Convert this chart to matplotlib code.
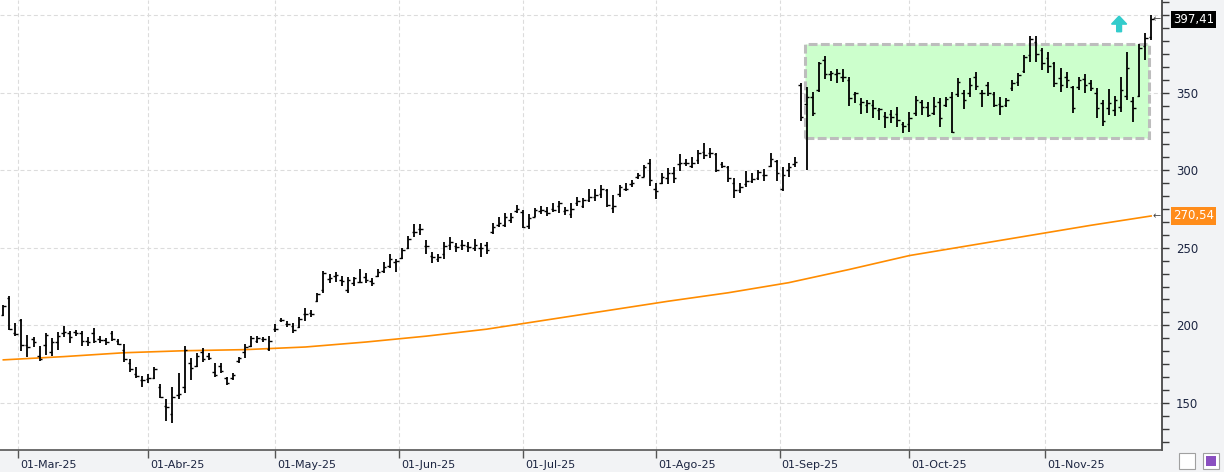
import numpy as np
import pandas as pd
import matplotlib
matplotlib.use("Agg")
import matplotlib.pyplot as plt
import matplotlib.transforms as mtransforms
from matplotlib.patches import Rectangle
from matplotlib.ticker import MultipleLocator

# daily bars, 26-Feb-25 .. 26-Nov-25
opens = [206.6, 217.4, 195.0, 203.5, 187.3, 191.4, 180.2, 187.0, 183.0, 189.4,
         195.2, 195.0, 196.0, 194.8, 190.0, 194.8, 191.0, 190.5, 194.8, 190.0,
         184.0, 176.0, 168.6, 165.0, 165.5, 166.0, 160.0, 148.0, 143.0, 155.0,
         160.4, 176.0, 173.7, 183.0, 180.0, 170.0, 174.0, 165.8, 166.0, 177.2,
         183.0, 186.6, 190.0, 191.0, 184.5, 197.5, 203.5, 201.0, 199.5, 199.0,
         207.0, 207.7, 216.0, 222.8, 230.0, 232.0, 229.0, 223.0, 227.0, 228.0,
         231.0, 228.8, 232.0, 235.0, 238.0, 241.0, 243.2, 249.6, 260.0, 262.0,
         251.0, 245.0, 243.0, 246.0, 252.0, 251.0, 252.0, 251.0, 250.0, 250.0,
         252.0, 260.0, 265.0, 265.0, 268.0, 274.0, 273.0, 264.0, 270.0, 274.0,
         274.0, 275.0, 277.0, 274.0, 272.0, 279.0, 277.0, 281.0, 283.0, 285.0,
         287.0, 276.0, 285.0, 288.0, 291.0, 296.0, 296.0, 305.0, 288.0, 292.0,
         295.0, 298.0, 304.0, 304.5, 303.0, 306.6, 312.0, 311.0, 310.5, 304.0,
         302.0, 292.0, 287.0, 291.0, 293.0, 295.0, 297.0, 302.8, 306.0, 288.0,
         300.0, 304.0, 355.0, 343.0, 347.0, 352.0, 371.0, 362.0, 362.0, 360.0,
         358.0, 349.0, 343.0, 342.0, 342.0, 339.0, 335.0, 336.0, 336.0, 330.0,
         330.0, 337.0, 344.0, 341.0, 337.0, 344.0, 342.0, 347.0, 349.0, 350.0,
         350.0, 360.0, 350.0, 355.0, 349.0, 343.0, 342.0, 352.9, 357.0, 364.0,
         374.4, 383.0, 377.6, 372.2, 369.0, 359.3, 360.4, 353.5, 354.0, 358.7,
         356.5, 350.0, 343.6, 340.0, 339.0, 340.6, 348.0, 345.0, 347.9, 380.0,
         386.0]
highs = [213.1, 218.9, 201.2, 203.8, 193.7, 192.6, 186.6, 195.2, 192.0, 195.4,
         199.5, 196.3, 197.0, 196.3, 192.2, 198.0, 193.0, 191.6, 196.5, 190.9,
         187.7, 178.0, 172.9, 167.3, 168.3, 172.9, 161.9, 152.2, 160.4, 169.4,
         186.6, 178.7, 181.9, 185.1, 181.9, 175.4, 175.9, 166.8, 169.4, 179.7,
         187.9, 193.1, 193.1, 192.6, 193.1, 200.8, 204.7, 202.8, 201.3, 205.6,
         211.0, 209.9, 220.6, 235.0, 233.1, 234.4, 232.0, 231.0, 231.4, 236.1,
         234.0, 230.3, 236.1, 241.1, 246.0, 242.6, 249.6, 257.6, 265.1, 265.3,
         255.0, 247.5, 246.0, 253.9, 257.1, 253.3, 255.0, 253.9, 255.4, 253.3,
         253.9, 266.2, 269.6, 272.2, 272.2, 277.6, 274.3, 271.5, 275.5, 277.0,
         276.5, 279.1, 280.4, 276.1, 278.7, 283.0, 281.9, 287.7, 287.7, 290.5,
         287.7, 284.0, 290.5, 291.6, 293.7, 298.0, 303.4, 307.0, 292.0, 298.0,
         301.3, 302.3, 310.5, 307.1, 308.4, 313.1, 317.4, 314.2, 311.0, 305.6,
         302.8, 294.8, 292.0, 299.8, 298.5, 300.2, 300.6, 311.0, 306.6, 301.9,
         305.0, 308.4, 356.1, 354.0, 350.8, 370.1, 373.8, 364.3, 365.2, 365.2,
         360.0, 350.8, 346.5, 345.4, 345.4, 340.0, 337.9, 339.0, 341.1, 331.4,
         337.9, 347.9, 345.4, 344.3, 347.5, 346.4, 347.5, 350.7, 359.3, 351.8,
         359.3, 363.6, 351.8, 357.2, 350.7, 347.5, 346.4, 358.3, 362.6, 374.4,
         386.6, 386.6, 378.7, 376.5, 370.1, 365.8, 363.6, 354.4, 360.4, 362.1,
         358.3, 352.9, 345.4, 352.2, 347.9, 360.0, 376.5, 347.5, 381.5, 388.4,
         400.2]
lows = [206.0, 196.9, 193.1, 183.6, 179.7, 186.2, 177.2, 180.8, 180.2, 184.0,
        192.6, 188.8, 193.1, 186.8, 186.6, 188.3, 188.3, 187.3, 190.1, 187.3,
        176.5, 170.0, 165.8, 160.0, 162.5, 165.1, 152.9, 138.5, 137.2, 152.2,
        156.5, 164.7, 173.3, 176.5, 177.6, 166.4, 169.4, 161.5, 164.7, 175.4,
        178.7, 186.2, 188.3, 189.4, 183.6, 195.5, 202.4, 199.1, 195.3, 198.1,
        203.0, 205.6, 215.3, 221.1, 227.5, 228.2, 225.4, 221.1, 225.4, 227.5,
        227.1, 225.4, 231.4, 233.5, 236.8, 234.6, 242.5, 249.0, 257.1, 258.2,
        246.0, 240.4, 241.0, 242.5, 248.5, 247.5, 248.5, 247.5, 248.1, 243.8,
        246.0, 258.9, 263.2, 263.6, 266.2, 272.6, 262.5, 262.2, 269.7, 271.8,
        270.5, 273.3, 272.2, 271.2, 269.0, 277.0, 275.5, 279.8, 280.4, 281.9,
        276.1, 272.7, 283.0, 286.9, 289.0, 294.2, 295.5, 289.9, 281.3, 291.2,
        291.2, 291.6, 299.8, 302.8, 301.3, 304.1, 307.1, 307.7, 299.1, 301.3,
        292.7, 281.9, 285.1, 289.0, 291.6, 293.7, 293.3, 302.3, 293.3, 286.9,
        296.0, 302.4, 332.0, 300.2, 335.1, 350.8, 358.7, 357.9, 356.6, 357.2,
        341.5, 343.7, 336.4, 337.2, 333.6, 332.5, 327.1, 330.3, 327.8, 324.3,
        325.0, 335.0, 335.7, 334.6, 335.7, 328.1, 340.6, 323.9, 347.5, 339.3,
        347.5, 351.8, 340.6, 347.9, 341.1, 335.7, 340.6, 351.4, 354.4, 362.6,
        370.1, 370.1, 364.7, 362.6, 354.0, 350.7, 352.9, 337.2, 351.8, 350.1,
        351.4, 333.5, 328.6, 335.7, 335.0, 337.8, 345.4, 331.4, 347.5, 371.2,
        384.1]
closes = [212.5, 197.4, 194.5, 187.3, 186.0, 189.0, 178.0, 194.0, 189.2, 193.0,
          196.0, 192.6, 195.0, 190.0, 189.4, 190.0, 190.5, 189.0, 191.0, 188.0,
          178.0, 171.6, 167.0, 164.7, 166.0, 171.6, 153.5, 147.0, 153.5, 155.5,
          184.0, 172.2, 180.0, 178.0, 179.1, 168.0, 170.7, 163.0, 168.0, 179.0,
          186.0, 192.0, 191.6, 191.0, 190.0, 197.4, 203.5, 201.0, 197.0, 204.0,
          207.5, 207.0, 220.0, 234.0, 230.3, 232.5, 228.8, 229.2, 230.3, 228.2,
          229.2, 227.0, 234.6, 237.4, 242.6, 241.7, 248.5, 256.0, 260.4, 261.9,
          251.1, 244.2, 244.2, 251.0, 253.9, 250.7, 251.8, 250.7, 251.8, 249.6,
          248.5, 263.6, 266.2, 269.6, 269.6, 274.8, 263.6, 269.0, 274.5, 274.4,
          272.2, 274.4, 278.7, 274.4, 274.8, 280.4, 280.8, 283.0, 284.0, 287.7,
          277.6, 277.0, 289.0, 287.7, 291.6, 297.0, 302.0, 293.7, 286.6, 296.0,
          298.0, 294.8, 304.5, 304.5, 304.5, 311.0, 309.9, 311.0, 300.0, 302.8,
          294.8, 287.3, 289.4, 293.3, 294.2, 299.1, 297.0, 307.0, 298.5, 297.0,
          302.0, 305.6, 334.6, 347.0, 337.2, 369.0, 362.0, 362.6, 362.6, 360.0,
          346.5, 349.7, 344.3, 343.2, 340.0, 339.4, 334.6, 334.6, 332.5, 328.6,
          333.6, 345.4, 341.1, 335.7, 341.5, 334.0, 345.8, 325.0, 357.2, 345.4,
          355.0, 354.4, 350.1, 350.0, 342.1, 341.5, 345.4, 356.0, 361.5, 373.3,
          385.0, 375.0, 369.0, 367.0, 356.0, 355.0, 358.0, 340.0, 358.3, 355.0,
          353.0, 340.0, 332.0, 343.2, 345.4, 352.0, 365.8, 340.0, 378.7, 385.1,
          397.41]

# 200-day moving average, sampled every 10 bars
ma_idx = list(range(0, 191, 10))
ma_vals = [177.7, 179.8, 182.3, 183.6, 184.3, 186.0, 189.2, 193.0, 197.5, 203.5,
           209.5, 215.5, 221.0, 227.5, 236.0, 245.0, 251.5, 258.0, 264.5, 270.54]

holidays = ["2025-04-18", "2025-05-26", "2025-06-19", "2025-07-04", "2025-09-01"]
month_starts = ["2025-03-01", "2025-04-01", "2025-05-01", "2025-06-01", "2025-07-01",
                "2025-08-01", "2025-09-01", "2025-10-01", "2025-11-01"]
month_labels = ["01-Mar-25", "01-Abr-25", "01-May-25", "01-Jun-25", "01-Jul-25",
                "01-Ago-25", "01-Sep-25", "01-Oct-25", "01-Nov-25"]
price_ticks = [150, 200, 250, 300, 350, 400]
price_labels = ["150", "200", "250", "300", "350", ""]  # 400 sits under the last-price tag

# lateral range (green box)
box_top = 381.3
box_bottom = 321.05

n = len(closes)
dates = pd.bdate_range("2025-02-26", periods=n, freq="C", holidays=holidays)
x = np.arange(n)

tick_pos = []
for m in pd.to_datetime(month_starts):
    i = int(np.searchsorted(dates, m))
    tick_pos.append(i if dates[i] == m else i - 0.5)

fig = plt.figure(figsize=(12.24, 4.72), dpi=100, facecolor="#f2f3f5")
ax = fig.add_axes([0, 22 / 472, 1162 / 1224, 450 / 472])
ax.set_facecolor("white")

ax.add_patch(Rectangle((132.7, box_bottom), 189.6 - 132.7, box_top - box_bottom,
                       facecolor="#ccffcc", edgecolor="#bdbdbd", lw=2.2,
                       ls=(0, (2.9, 1.1)), zorder=1))

ax.plot(ma_idx, ma_vals, color="#ff8c00", lw=1.2, zorder=2)

ax.vlines(x, lows, highs, color="black", lw=1.3, zorder=3)
ax.hlines(opens, x - 0.42, x, color="black", lw=1.0, zorder=3)
ax.hlines(closes, x, x + 0.42, color="black", lw=1.0, zorder=3)

# up arrow
ax.arrow(184.7, 389.4, 0, 10.1, width=0.8, head_width=2.5, head_length=5.2,
         length_includes_head=True, color="#33cccc", zorder=4)

ax.set_xlim(-0.55, 191.8)
ax.set_ylim(119.55, 409.87)

for s in ["left", "top"]:
    ax.spines[s].set_visible(False)
ax.spines["right"].set_color("#3a3a3a")
ax.spines["right"].set_linewidth(1.2)
ax.spines["bottom"].set_color("#555555")
ax.spines["bottom"].set_linewidth(1.2)

ax.yaxis.tick_right()
ax.set_yticks(price_ticks, price_labels)
ax.yaxis.set_minor_locator(MultipleLocator(50 / 6))
ax.tick_params(axis="y", which="both", length=5, width=1, color="#3a3a3a",
               labelsize=8.5, pad=5, labelcolor="#1c2541")

ax.set_xticks(tick_pos, month_labels)
ax.tick_params(axis="x", length=6, width=1, color="#555555", labelsize=8,
               pad=1, labelcolor="#1c2541")
offset = mtransforms.ScaledTranslation(2 / 100, 0, fig.dpi_scale_trans)
for lab in ax.get_xticklabels():
    lab.set_horizontalalignment("left")
    lab.set_transform(lab.get_transform() + offset)

ax.set_axisbelow(True)
ax.grid(True, which="major", color="#dcdcdc", lw=0.8, ls=(0, (3.6, 2.4)))

tr = mtransforms.blended_transform_factory(ax.transAxes, ax.transData)
for val, fc in [(closes[-1], "black"), (ma_vals[-1], "#ff8c1a")]:
    ax.annotate(f"{val:.2f}".replace(".", ","), xy=(1, val), xycoords=tr,
                xytext=(8, 0), textcoords="offset points", ha="left", va="center",
                fontsize=8.5, color="white", zorder=10, annotation_clip=False,
                bbox=dict(boxstyle="square,pad=0.18", fc=fc, ec="none"))
    ax.text(1, val, "\u2190", transform=tr + mtransforms.ScaledTranslation(-1 / 100, 0, fig.dpi_scale_trans),
            ha="right", va="center", fontsize=7, color="#444444", clip_on=False)

# small toolbar icons bottom right
fig.patches.append(Rectangle((1179 / 1224, 3 / 472), 16 / 1224, 16 / 472,
                             transform=fig.transFigure, fc="white", ec="#a0a0a0", lw=0.8))
fig.patches.append(Rectangle((1203 / 1224, 3 / 472), 16 / 1224, 16 / 472,
                             transform=fig.transFigure, fc="white", ec="#a0a0a0", lw=0.8))
fig.patches.append(Rectangle((1206 / 1224, 6 / 472), 10 / 1224, 10 / 472,
                             transform=fig.transFigure, fc="#8a4fc0", ec="none"))

fig.savefig("out.png", dpi=100, facecolor=fig.get_facecolor())
